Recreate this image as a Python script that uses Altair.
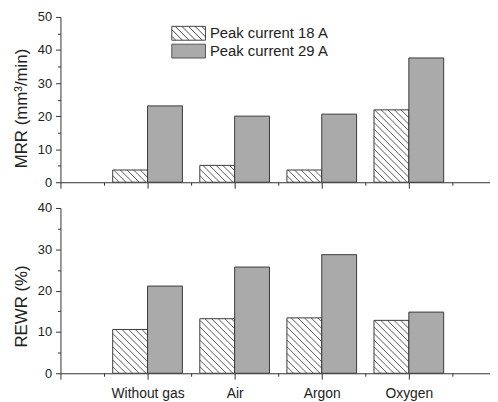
import json
import altair as alt
import pandas as pd

categories = ["Without gas", "Air", "Argon", "Oxygen"]
series = ["Peak current 18 A", "Peak current 29 A"]
mrr_18 = [3.7, 5.1, 3.7, 21.9]
mrr_29 = [23.1, 20.0, 20.6, 37.6]
rewr_18 = [10.6, 13.2, 13.4, 12.8]
rewr_29 = [21.1, 25.7, 28.7, 14.8]
mrr_ticks = [0, 10, 20, 30, 40, 50]
mrr_minor = [5, 15, 25, 35, 45]
rewr_ticks = [0, 10, 20, 30, 40]
rewr_minor = [5, 15, 25, 35]
x_major = [0, 1, 2, 3, 4]
x_minor = [0.5, 1.5, 2.5, 3.5, 4.5]

FONT = "Liberation Sans"
W = 434          # plot width
H = 167          # plot height
KX = 88.0        # px per category unit
XMAX = W / KX
BW = 0.4         # bar width in category units
STEP = 6.7       # hatch spacing (px)
FILL_RANGE = ["#ffffff", "#aaaaaa"]

# legend swatch: 34 x 14 px, symbol radius 7 px
SW_R = 7.0
SW_HW = 17.0 / SW_R   # half width in symbol units
SW_HH = 7.0 / SW_R    # half height in symbol units


def long(v18, v29):
    rows = []
    for i, c in enumerate(categories):
        rows.append({"cat": c, "pos": i + 1, "series": series[0], "value": v18[i]})
        rows.append({"cat": c, "pos": i + 1, "series": series[1], "value": v29[i]})
    return pd.DataFrame(rows)


def rect_path():
    return f"M{-SW_HW:.3f},{-SW_HH:.3f}H{SW_HW:.3f}V{SW_HH:.3f}H{-SW_HW:.3f}Z"


def hatch_path():
    h = SW_HH
    w = SW_HW
    s = STEP / SW_R
    parts = [rect_path()]
    x0 = -w - 2 * h + s * 0.6
    while x0 < w:
        xa, ya = x0, -h
        xb, yb = x0 + 2 * h, h
        if xa < -w:
            ya = -h + (-w - xa)
            xa = -w
        if xb > w:
            yb = h - (xb - w)
            xb = w
        if xa < xb:
            parts.append(f"M{xa:.3f},{ya:.3f}L{xb:.3f},{yb:.3f}")
        x0 += s
    return "".join(parts)


legend_obj = alt.Legend(
    title=None, orient="none", legendX=122, legendY=9,
    symbolSize=(2 * SW_R) ** 2, labelFont=FONT, labelFontSize=15, labelColor="#222",
    labelOffset=14, rowPadding=-1,
    symbolStrokeWidth=1, symbolOpacity=1,
)


def panel(df, ymax, yticks, yminor, title, title_y, show_labels, with_legend):
    ky = H / ymax
    xscale = alt.Scale(domain=[0, XMAX], nice=False, zero=False)
    yscale = alt.Scale(domain=[0, ymax], nice=False)
    fill_scale = alt.Scale(domain=series, range=FILL_RANGE)

    if show_labels:
        label_expr = f"{json.dumps([''] + categories)}[datum.value]"
        x_axis = alt.Axis(values=x_major, tickSize=6, labelExpr=label_expr,
                          labelPadding=8, labelFontSize=14, title=None,
                          grid=False, orient="bottom")
    else:
        x_axis = alt.Axis(values=x_major, tickSize=6, labels=False,
                          title=None, grid=False, orient="bottom")
    x_minor_axis = alt.Axis(values=x_minor, tickSize=3, labels=False,
                            domain=False, title=None, grid=False, orient="bottom")
    y_axis = alt.Axis(values=yticks, tickSize=5, labelPadding=4, labelFontSize=13,
                      title=title, titleX=-34, titleY=title_y,
                      titleBaseline="alphabetic", titleFontSize=17,
                      titleFontWeight="normal", grid=False, orient="left")
    y_minor_axis = alt.Axis(values=yminor, tickSize=3, labels=False,
                            domain=False, title=None, grid=False, orient="left")

    leg = legend_obj if with_legend else None

    bars = alt.Chart(df).transform_calculate(
        x0=f"datum.pos + (datum.series == '{series[0]}' ? -{BW} : 0)",
    ).transform_calculate(
        x1=f"datum.x0 + {BW}",
    ).mark_rect(stroke="#3a3a3a", strokeWidth=1).encode(
        x=alt.X("x0:Q", scale=xscale, axis=x_axis),
        x2="x1:Q",
        y=alt.Y("value:Q", scale=yscale, axis=y_axis),
        y2=alt.datum(0),
        fill=alt.Fill("series:N", scale=fill_scale, legend=leg),
    )

    wpx = BW * KX
    hatch = alt.Chart(df[df["series"] == series[0]]).transform_calculate(
        Hp=f"datum.value * {ky}",
    ).transform_calculate(
        seq=f"sequence(1, ceil(({wpx} + datum.Hp) / {STEP}))",
    ).transform_flatten(["seq"]).transform_calculate(
        c=f"datum.seq * {STEP}",
    ).transform_calculate(
        xa="max(0, datum.c - datum.Hp)",
        xb=f"min({wpx}, datum.c)",
    ).transform_filter("datum.xa < datum.xb").transform_calculate(
        hx1=f"datum.pos - {BW} + datum.xa / {KX}",
        hy1=f"(datum.c - datum.xa) / {ky}",
        hx2=f"datum.pos - {BW} + datum.xb / {KX}",
        hy2=f"(datum.c - datum.xb) / {ky}",
    ).mark_rule(color="#444", strokeWidth=0.9).encode(
        x=alt.X("hx1:Q", scale=xscale, axis=x_minor_axis),
        y=alt.Y("hy1:Q", scale=yscale, axis=y_minor_axis),
        x2="hx2:Q",
        y2="hy2:Q",
    )

    layers = [bars, hatch]
    if with_legend:
        pts = alt.Chart(pd.DataFrame({"series": series})).mark_point(
            filled=True, opacity=0, strokeWidth=1
        ).encode(
            fill=alt.Fill("series:N", scale=fill_scale, legend=legend_obj),
            stroke=alt.Stroke("series:N",
                              scale=alt.Scale(domain=series, range=["#444444", "#555555"]),
                              legend=legend_obj),
            shape=alt.Shape("series:N",
                            scale=alt.Scale(domain=series, range=[hatch_path(), rect_path()]),
                            legend=legend_obj),
        )
        layers.append(pts)

    return alt.layer(*layers).resolve_axis(x="independent", y="independent").properties(
        width=W, height=H)


top = panel(long(mrr_18, mrr_29), 50, mrr_ticks, mrr_minor, "MRR (mm³/min)", 92, False, True)
bottom = panel(long(rewr_18, rewr_29), 40, rewr_ticks, rewr_minor, "REWR (%)", 99, True, False)

chart = alt.vconcat(top, bottom, spacing=13).resolve_scale(
    fill="independent", shape="independent", stroke="independent"
).resolve_legend(fill="independent", shape="independent", stroke="independent").configure_view(
    stroke=None
).configure_axis(
    labelFont=FONT, titleFont=FONT, labelColor="#222", titleColor="#222",
    domainColor="#333", tickColor="#333", domainWidth=1, tickWidth=1,
).properties(
    padding={"left": 5, "top": 1, "right": 0, "bottom": 0}
)

chart.save("out.html", embed_options={"renderer": "svg", "actions": False})
